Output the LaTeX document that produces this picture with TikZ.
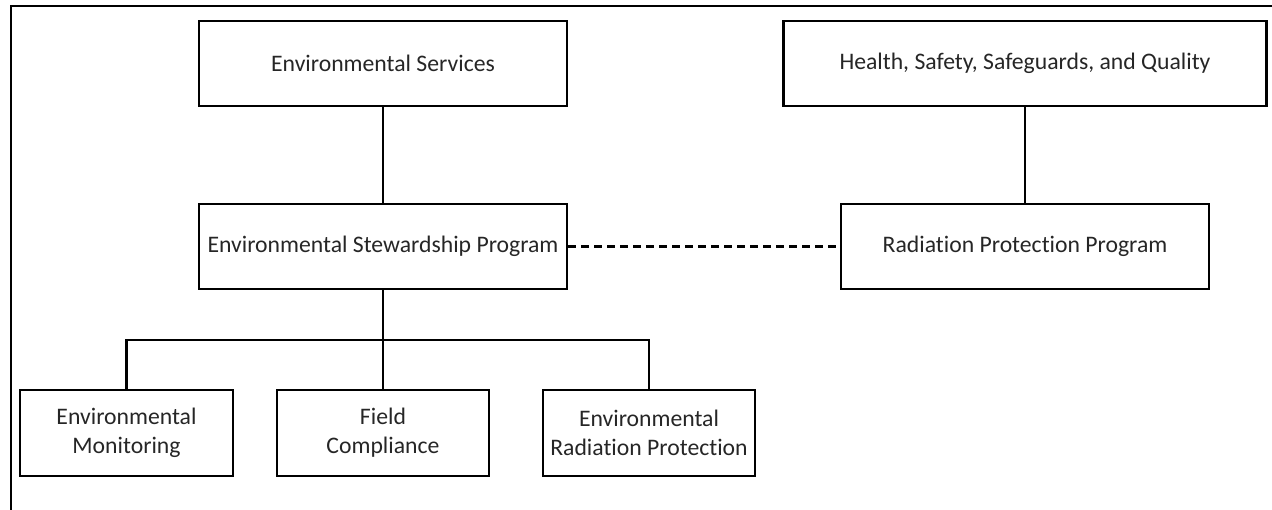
\documentclass[tikz,border=0pt]{standalone}
\usepackage{fontspec}
\setmainfont{Carlito}[RawFeature=-liga]
\begin{document}
\begin{tikzpicture}[x=1pt,y=-1pt,
  unit/.style={draw, line width=2.1pt, minimum height=85pt, align=center,
    inner sep=2pt, text=black!85,
    font=\fontsize{23.7}{29}\selectfont},
  link/.style={line width=2.1pt},
  rel/.style={line width=2.1pt, dash pattern=on 8pt off 5pt}]
\useasboundingbox (0,0) rectangle (1272,510);
% outer frame (top and left edges)
\draw[line width=2.2pt] (1272,6) -- (11,6) -- (11,510);

% upper level
\node[unit, minimum width=368pt] (es) at (383,63.5) {Environmental Services};
\node[unit, minimum width=483pt] (hs) at (1025,63.5) {Health, Safety, Safeguards, and Quality};

% programs
\node[unit, minimum width=368pt] (esp) at (383,246.5) {Environmental Stewardship Program};
\node[unit, minimum width=368pt] (rpp) at (1025,246.5) {Radiation Protection Program};

% sub-units
\node[unit, minimum width=213pt, minimum height=86pt] (em) at (126.5,433) {Environmental\\Monitoring};
\node[unit, minimum width=212pt, minimum height=86pt] (fc) at (383,433) {Field\\Compliance};
\node[unit, minimum width=212pt, minimum height=86pt] (erp) at (649,433) {Environmental\\Radiation Protection};

\coordinate (bus) at (383,340);

\draw[link] (es.south) -- (esp.north);
\draw[link] (hs.south) -- (rpp.north);
\draw[rel] (esp.east) -- (rpp.west);
\draw[link] (esp.south) -- (fc.north);
\draw[link] (em.north) |- (bus) -| (erp.north);
\end{tikzpicture}
\end{document}
